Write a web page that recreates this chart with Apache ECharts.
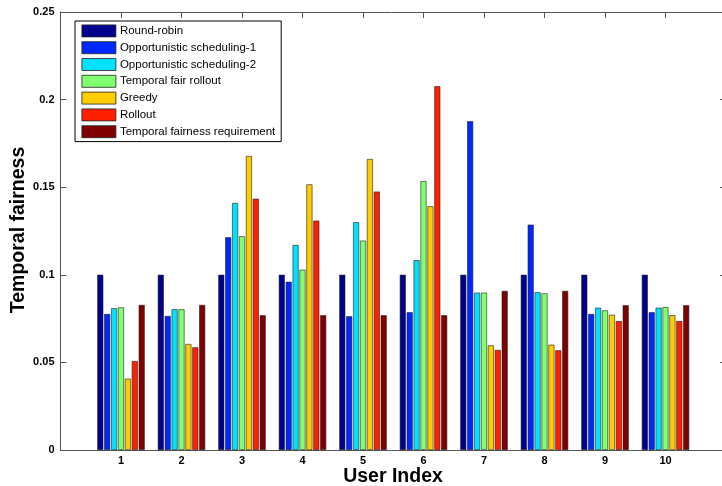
<!DOCTYPE html>
<html>
<head>
<meta charset="utf-8">
<script src="https://cdn.jsdelivr.net/npm/echarts@6/dist/echarts.min.js"></script>
<style>html,body{margin:0;padding:0;background:#fff}#c{width:722px;height:486px}</style>
</head>
<body>
<div id="c"></div>
<script>
var users = [1, 2, 3, 4, 5, 6, 7, 8, 9, 10];
var seriesNames = ['Round-robin', 'Opportunistic scheduling-1', 'Opportunistic scheduling-2', 'Temporal fair rollout', 'Greedy', 'Rollout', 'Temporal fairness requirement'];
var roundRobin = [0.100, 0.100, 0.100, 0.100, 0.100, 0.100, 0.100, 0.100, 0.100, 0.100];
var opportunistic1 = [0.0776, 0.0765, 0.1214, 0.0960, 0.0763, 0.0786, 0.1876, 0.1286, 0.0776, 0.0786];
var opportunistic2 = [0.0809, 0.0803, 0.1410, 0.1170, 0.1300, 0.1083, 0.0898, 0.0900, 0.0812, 0.0812];
var temporalFairRollout = [0.0814, 0.0803, 0.1220, 0.1029, 0.1195, 0.1535, 0.0898, 0.0894, 0.0797, 0.0816];
var greedy = [0.0407, 0.0605, 0.1678, 0.1516, 0.1661, 0.1391, 0.0597, 0.0601, 0.0772, 0.0769];
var rollout = [0.0508, 0.0586, 0.1434, 0.1309, 0.1475, 0.2076, 0.0571, 0.0569, 0.0736, 0.0736];
var fairnessRequirement = [0.0828, 0.0828, 0.0769, 0.0769, 0.0769, 0.0769, 0.0908, 0.0908, 0.0826, 0.0826];
var xTitle = 'User Index';
var yTitle = 'Temporal fairness';

var allValues = [roundRobin, opportunistic1, opportunistic2, temporalFairRollout, greedy, rollout, fairnessRequirement];
var colors = ['#00008F', '#0028FF', '#00E0FF', '#80FF70', '#FFCC00', '#FF2000', '#800000'];

var chart = echarts.init(document.getElementById('c'), null, {renderer: 'canvas'});
var font = 'Liberation Sans, Arial, sans-serif';
var axisLineColor = '#555';

var series = allValues.map(function (vals, i) {
  return {
    name: seriesNames[i],
    type: 'bar',
    xAxisIndex: 0,
    yAxisIndex: 0,
    barWidth: 6,
    barGap: '15%',
    data: users.map(function (u, k) { return [u, vals[k]]; }),
    itemStyle: {color: colors[i], borderColor: '#222', borderWidth: 0.6},
    emphasis: {disabled: true},
    animation: false
  };
});

chart.setOption({
  animation: false,
  backgroundColor: '#fff',
  color: colors,
  grid: {left: 60.5, top: 12, width: 665.5, height: 438, containLabel: false, outerBoundsMode: 'none'},
  graphic: [{
    type: 'text',
    x: 393, y: 477,
    style: {text: xTitle, font: 'bold 19.5px Liberation Sans, Arial, sans-serif', fill: '#000', align: 'center', verticalAlign: 'middle'}
  }, {
    type: 'text',
    x: 19, y: 230,
    rotation: Math.PI / 2,
    style: {text: yTitle, font: 'bold 19.5px Liberation Sans, Arial, sans-serif', fill: '#000', align: 'center', verticalAlign: 'middle'}
  }],
  legend: {
    orient: 'vertical',
    left: 75,
    top: 21,
    padding: [3.5, 6, 3.5, 6.5],
    itemWidth: 34,
    itemHeight: 12,
    itemGap: 4,
    borderColor: '#000',
    borderWidth: 1,
    backgroundColor: '#fff',
    icon: 'rect',
    selectedMode: false,
    itemStyle: {borderColor: '#222', borderWidth: 0.8},
    textStyle: {fontFamily: font, fontSize: 11.5, color: '#000', padding: [0, 0, 0, -1]},
    data: seriesNames
  },
  xAxis: [{
    type: 'value',
    min: 0, max: 11, interval: 1,
    position: 'bottom',
    axisLine: {show: true, onZero: false, lineStyle: {color: axisLineColor, width: 1}},
    axisTick: {show: true, inside: true, length: 6, lineStyle: {color: axisLineColor}},
    axisLabel: {
      margin: 5,
      fontFamily: font, fontSize: 11, fontWeight: 'bold', color: '#000',
      formatter: function (v) { return (v >= 1 && v <= 10) ? String(v) : ''; }
    },
    splitLine: {show: false}
  }, {
    type: 'value',
    min: 0, max: 11, interval: 1,
    position: 'top',
    axisLine: {show: true, onZero: false, lineStyle: {color: axisLineColor, width: 1}},
    axisTick: {show: true, inside: true, length: 6, lineStyle: {color: axisLineColor}},
    axisLabel: {show: false},
    splitLine: {show: false}
  }],
  yAxis: [{
    type: 'value',
    min: 0, max: 0.25, interval: 0.05,
    position: 'left',
    axisLine: {show: true, onZero: false, lineStyle: {color: axisLineColor, width: 1}},
    axisTick: {show: true, inside: true, length: 6, lineStyle: {color: axisLineColor}},
    axisLabel: {
      margin: 6,
      fontFamily: font, fontSize: 11, fontWeight: 'bold', color: '#000',
      formatter: function (v) { return String(Math.round(v * 100) / 100); }
    },
    splitLine: {show: false}
  }, {
    type: 'value',
    min: 0, max: 0.25, interval: 0.05,
    position: 'right',
    axisLine: {show: true, onZero: false, lineStyle: {color: axisLineColor, width: 1}},
    axisTick: {show: true, inside: true, length: 6, lineStyle: {color: axisLineColor}},
    axisLabel: {show: false},
    splitLine: {show: false}
  }],
  series: series
});
</script>
</body>
</html>
